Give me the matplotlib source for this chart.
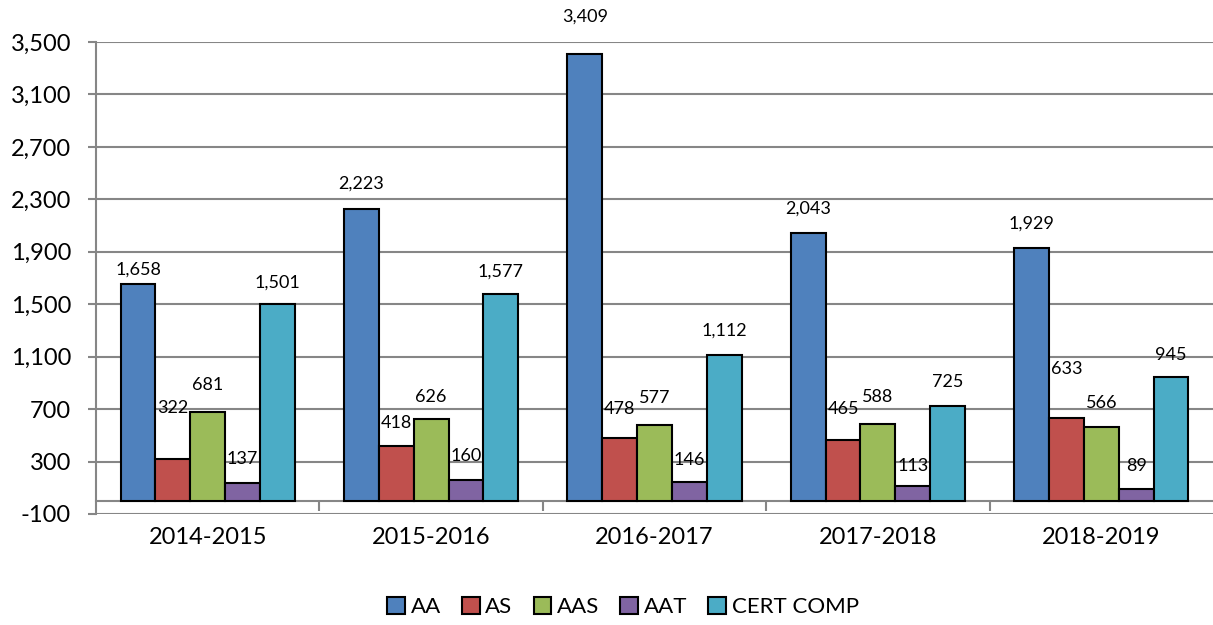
import matplotlib.pyplot as plt
import numpy as np

plt.rcParams['font.family'] = ['Lato', 'DejaVu Sans']

years = ['2014-2015', '2015-2016', '2016-2017', '2017-2018', '2018-2019']
series = ['AA', 'AS', 'AAS', 'AAT', 'CERT COMP']
aa = [1658, 2223, 3409, 2043, 1929]
as_ = [322, 418, 478, 465, 633]
aas = [681, 626, 577, 588, 566]
aat = [137, 160, 146, 113, 89]
cert = [1501, 1577, 1112, 725, 945]
values = [aa, as_, aas, aat, cert]

colors = ['#4F81BD', '#C0504D', '#9BBB59', '#8064A2', '#4BACC6']

# label offset above bar top, in pixels (reference places a few higher/lower)
label_off = [
    [14, 26, 37, 24, 24],
    [51, 23, 29, 31, 49],
    [27, 22, 27, 27, 24],
    [24, 24, 22, 20, 23],
    [21, 23, 24, 24, 22],
]

fig = plt.figure(figsize=(12.13, 6.25), dpi=100)
ax = fig.add_axes([96 / 1213, 111 / 625, 1 - 96 / 1213, (514 - 42) / 625])

grey = '#868686'
w = 0.156
x = np.arange(len(years))
for j, (name, vals) in enumerate(zip(series, values)):
    pos = x + (j - 2) * w
    ax.bar(pos, vals, width=w, color=colors[j], edgecolor='black',
           linewidth=1.5, label=name, zorder=3)
    for k, (p, v) in enumerate(zip(pos, vals)):
        ax.annotate(f'{v:,}', (p, v), xytext=(0, label_off[j][k] * 0.72),
                    textcoords='offset points', ha='center', va='center',
                    fontsize=13, zorder=4)

ax.set_xlim(-0.5, len(years) - 0.5)
ax.set_ylim(-100, 3500)
ax.set_yticks(np.arange(-100, 3501, 400))
ax.yaxis.set_major_formatter(plt.FuncFormatter(lambda v, _: f'{int(v):,}'))
ax.tick_params(axis='y', length=6, width=1.5, color=grey, labelsize=17, pad=12)
ax.yaxis.grid(True, color=grey, linewidth=1.5, zorder=0)
ax.set_axisbelow(True)

for s in ['top', 'right']:
    ax.spines[s].set_visible(False)
ax.spines['left'].set_color(grey)
ax.spines['left'].set_linewidth(1.5)
ax.spines['bottom'].set_position(('data', 0))
ax.spines['bottom'].set_color(grey)
ax.spines['bottom'].set_linewidth(1.5)

ax.set_xticks(np.arange(0.5, len(years) - 0.5))
ax.set_xticklabels([])
ax.tick_params(axis='x', which='major', length=7, width=1.5, color=grey)
ax.set_xticks(x, minor=True)
ax.set_xticklabels(years, minor=True)
ax.tick_params(axis='x', which='minor', length=0, labelsize=17, pad=19)

ax.legend(loc='center', bbox_to_anchor=(623 / 1213, (625 - 607) / 625), ncol=5,
          frameon=False, fontsize=16, handlelength=0.8, handleheight=0.8,
          handletextpad=0.25, columnspacing=0.95,
          bbox_transform=fig.transFigure)
for h in ax.get_legend().legend_handles:
    h.set_linewidth(1.5)

fig.savefig('out.png', dpi=100)
